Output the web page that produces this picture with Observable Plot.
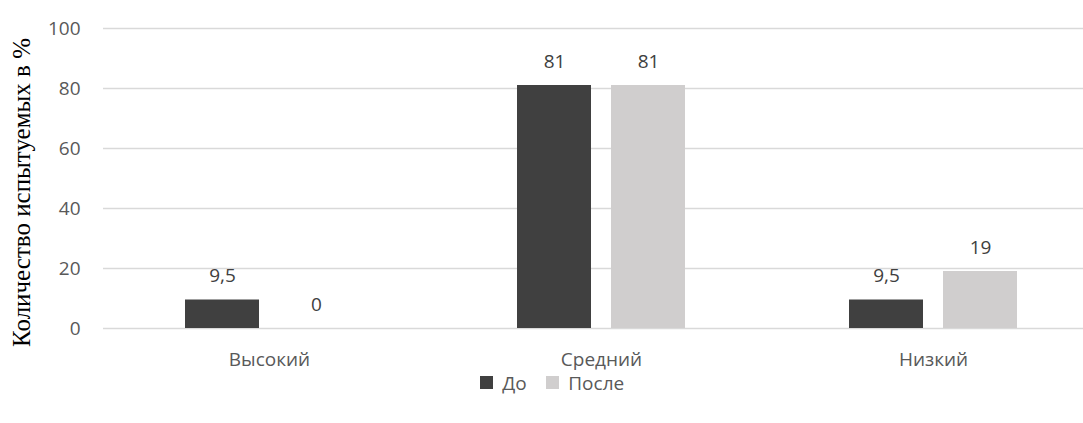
<!DOCTYPE html>
<html>
<head>
<meta charset="utf-8">
<script src="https://cdn.jsdelivr.net/npm/d3@7"></script>
<script src="https://cdn.jsdelivr.net/npm/@observablehq/plot@0.6"></script>
<style>
  body { margin: 0; background: #fff; }
  #chart { width: 1083px; overflow: hidden; }
  #legend { display: flex; justify-content: center; padding-left: 40px; margin-top: -10px; }
</style>
</head>
<body>
<div id="chart"></div>
<div id="legend"></div>
<script>
const categories = ["Высокий", "Средний", "Низкий"];
const series = ["До", "После"];
const before = [9.5, 81, 9.5];
const after = [0, 81, 19];
const yTicks = [0, 20, 40, 60, 80, 100];
const colors = ["#404040", "#d0cece"];
const yTitle = "Количество испытуемых в %";

const data = categories.flatMap((c, i) => [
  {cat: c, s: series[0], v: before[i]},
  {cat: c, s: series[1], v: after[i]}
]);

const sans = "'Open Sans', sans-serif";

const chart = Plot.plot({
  width: 1083,
  height: 376,
  marginTop: 28,
  marginBottom: 48,
  marginLeft: 103,
  marginRight: 0,
  style: {fontFamily: sans, background: "#fff", overflow: "visible"},
  fx: {domain: categories, range: [103, 1099], padding: 0},
  x: {domain: series, axis: null, paddingInner: 0.213, paddingOuter: 0.872},
  y: {domain: [0, 100]},
  color: {domain: series, range: colors},
  marks: [
    Plot.gridY(yTicks, {stroke: "#d9d9d9", strokeOpacity: 1, strokeWidth: 1.4}),
    Plot.axisY(yTicks, {tickSize: 0, tickPadding: 23, label: null, fontSize: 19, color: "#595959", facetAnchor: "left"}),
    Plot.barY(data, {fx: "cat", x: "s", y: "v", fill: "s"}),
    Plot.text(data, {fx: "cat", x: "s", y: "v", text: d => String(d.v).replace(".", ","), dy: -24, fontSize: 19, fill: "#404040"}),
    Plot.axisFx({anchor: "bottom", tickSize: 0, tickPadding: 24, label: null, fontSize: 19, color: "#595959"}),
    Plot.text([yTitle], {fx: () => categories[0], frameAnchor: "left", textAnchor: "middle", rotate: -90, dx: -82, dy: 14, fontSize: 25, fontFamily: "'Liberation Serif', serif", fill: "#000"})
  ]
});
document.getElementById("chart").appendChild(chart);

const legend = Plot.legend({
  color: {domain: series, range: colors},
  legend: "swatches",
  swatchSize: 13,
  style: {fontFamily: sans, fontSize: "19px", color: "#595959"}
});
document.getElementById("legend").appendChild(legend);
</script>
</body>
</html>
